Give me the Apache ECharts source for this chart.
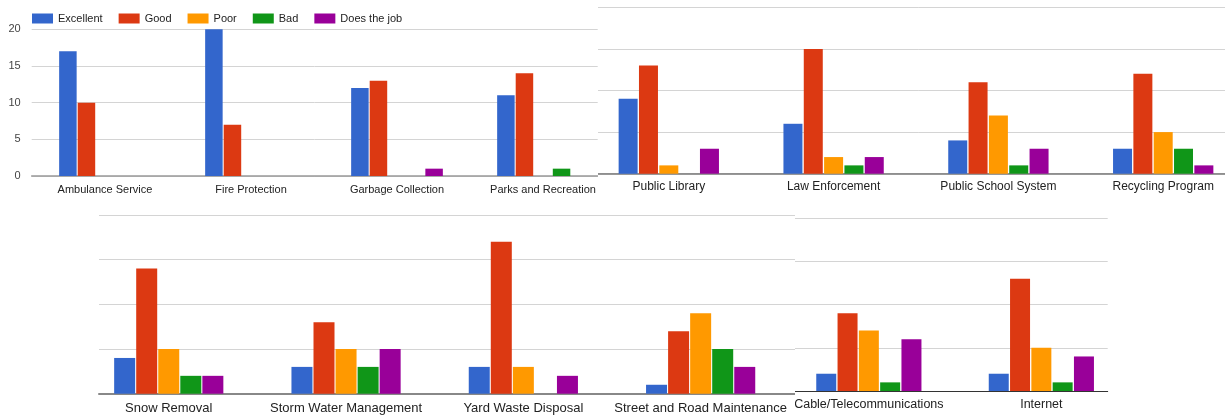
<!DOCTYPE html>
<html><head><meta charset="utf-8">
<script src="https://cdn.jsdelivr.net/npm/echarts@6/dist/echarts.min.js"></script>
<style>
html,body{margin:0;padding:0;background:#fff;width:1225px;height:418px;overflow:hidden;position:relative}
.clip{position:absolute;overflow:hidden;background:#fff}
.inner{position:absolute;width:1300px;height:418px}
</style></head><body>
<script>
// ---- data ----
const categories = [
  'Ambulance Service','Fire Protection','Garbage Collection','Parks and Recreation',
  'Public Library','Law Enforcement','Public School System','Recycling Program',
  'Snow Removal','Storm Water Management','Yard Waste Disposal','Street and Road Maintenance',
  'Cable/Telecommunications','Internet'
];
const seriesNames = ['Excellent','Good','Poor','Bad','Does the job'];
const excellent  = [17,20,12,11,  9, 6, 4, 3,  4,3, 3,1,  2, 2];
const good       = [10, 7,13,14, 13,15,11,12, 14,8,17,7,  9,13];
const poor       = [ 0, 0, 0, 0,  1, 2, 7, 5,  5,5, 3,9,  7, 5];
const bad        = [ 0, 0, 0, 1,  0, 1, 1, 3,  2,3, 0,5,  1, 1];
const doesTheJob = [ 0, 0, 1, 0,  3, 2, 3, 1,  2,5, 2,3,  6, 4];
const yTicks = [0,5,10,15,20];
const seriesValues = [excellent, good, poor, bad, doesTheJob];

// ---- layout / style ----
const colors = ['#3366cc','#dc3912','#ff9900','#109618','#990099'];
const FONT = 'Liberation Sans, Arial, sans-serif';
const panels = [
  {clip:[0,0,598,205], from:0, to:4, bar:{left:32, width:584, top:29.3, height:146.7},
   lines:{left:31.7, right:597.7}, barWidth:17.5, barGap:'6%', fontSize:11, margin:8,
   axisColor:'#999', axisWidth:1.5, yLabels:true, legend:true},
  {clip:[598,0,627,205], from:4, to:8, bar:{left:586.4, width:659.2, top:7.3, height:166.4},
   lines:{left:597.7, right:1240}, barWidth:19, barGap:'7%', fontSize:12, margin:7,
   axisColor:'#777', axisWidth:1.5},
  {clip:[0,205,795,213], from:8, to:12, bar:{left:80.1, width:709.2, top:215, height:178.7},
   lines:{left:99, right:795}, barWidth:21, barGap:'5%', fontSize:13, margin:8,
   axisColor:'#888', axisWidth:2},
  {clip:[795,205,430,213], from:12, to:14, bar:{left:782.6, width:345, top:218.3, height:172.7},
   lines:{left:795, right:1107.7}, barWidth:20, barGap:'6.5%', fontSize:12.5, margin:7.5,
   axisColor:'#333', axisWidth:1}
];

panels.forEach((p, i) => {
  const clip = document.createElement('div');
  clip.className = 'clip';
  clip.style.left = p.clip[0] + 'px'; clip.style.top = p.clip[1] + 'px';
  clip.style.width = p.clip[2] + 'px'; clip.style.height = p.clip[3] + 'px';
  const inner = document.createElement('div');
  inner.className = 'inner';
  inner.style.left = (-p.clip[0]) + 'px'; inner.style.top = (-p.clip[1]) + 'px';
  clip.appendChild(inner);
  document.body.appendChild(clip);

  const chart = echarts.init(inner, null, {renderer:'canvas'});
  const cats = categories.slice(p.from, p.to);
  const option = {
    animation:false,
    textStyle:{fontFamily:FONT},
    grid:[
      {left:p.bar.left, top:p.bar.top, width:p.bar.width, height:p.bar.height},
      {left:p.lines.left, top:p.bar.top, width:p.lines.right - p.lines.left, height:p.bar.height}
    ],
    xAxis:[
      {type:'category', gridIndex:0, data:cats, axisLine:{show:false}, axisTick:{show:false},
       axisLabel:{interval:0, fontSize:p.fontSize, color:'#222', margin:p.margin, fontFamily:FONT}},
      {type:'category', gridIndex:1, data:[''], axisLine:{show:true, lineStyle:{color:p.axisColor, width:p.axisWidth}},
       axisTick:{show:false}, axisLabel:{show:false}}
    ],
    yAxis:[
      {type:'value', gridIndex:0, min:yTicks[0], max:yTicks[yTicks.length-1], interval:5, show:false},
      {type:'value', gridIndex:1, min:yTicks[0], max:yTicks[yTicks.length-1], interval:5,
       axisLine:{show:false}, axisTick:{show:false},
       splitLine:{lineStyle:{color:'#d4d4d4', width:1}},
       axisLabel: p.yLabels ? {show:true, fontSize:11, color:'#444', margin:11, fontFamily:FONT} : {show:false}}
    ],
    series: seriesNames.map((name, k) => ({
      name, type:'bar', xAxisIndex:0, yAxisIndex:0,
      data: seriesValues[k].slice(p.from, p.to),
      barWidth:p.barWidth, barGap:p.barGap,
      itemStyle:{color:colors[k]}
    }))
  };
  if (p.legend) {
    option.legend = {
      data:seriesNames, left:32, top:13, padding:0, itemWidth:21, itemHeight:10, itemGap:16,
      icon:'rect', textStyle:{fontSize:11, color:'#222', fontFamily:FONT}
    };
  }
  chart.setOption(option);
});
</script>
</body></html>
